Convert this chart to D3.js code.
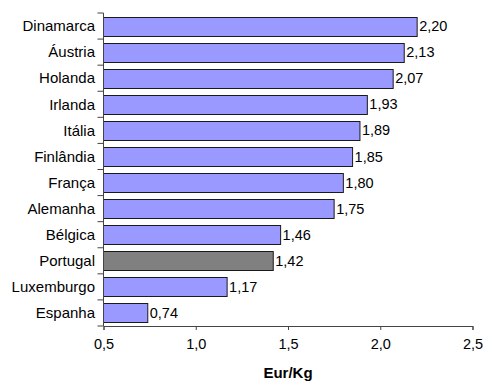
<!DOCTYPE html>
<html>
<head>
<meta charset="utf-8">
<script src="https://cdn.jsdelivr.net/npm/d3@7"></script>
<style>
  body { margin: 0; background: #fff; }
  text { font-family: "Liberation Sans", Arial, sans-serif; }
</style>
</head>
<body>
<script>
// data
const countries = ["Dinamarca", "Áustria", "Holanda", "Irlanda", "Itália", "Finlândia",
  "França", "Alemanha", "Bélgica", "Portugal", "Luxemburgo", "Espanha"];
const prices = [2.20, 2.13, 2.07, 1.93, 1.89, 1.85, 1.80, 1.75, 1.46, 1.42, 1.17, 0.74];
const xTicks = [0.5, 1.0, 1.5, 2.0, 2.5];
const highlight = "Portugal";

// dimensions
const width = 485, height = 383;
const marginTop = 13, marginRight = 12.5, marginBottom = 57, marginLeft = 103.5;

const fmt = v => d3.format(".2f")(v).replace(".", ",");
const fmtTick = v => d3.format(".1f")(v).replace(".", ",");

const svg = d3.select("body").append("svg")
  .attr("width", width)
  .attr("height", height)
  .attr("viewBox", [0, 0, width, height]);

// scales
const x = d3.scaleLinear()
  .domain([0.5, 2.5])
  .range([marginLeft, width - marginRight]);

const y = d3.scaleBand()
  .domain(countries)
  .range([marginTop, height - marginBottom])
  .paddingInner(0.27)
  .paddingOuter(0.135);

// bars
svg.append("g")
  .selectAll("rect")
  .data(countries)
  .join("rect")
  .attr("x", x(0.5))
  .attr("y", d => Math.round(y(d)) + 0.5)
  .attr("width", (d, i) => x(prices[i]) - x(0.5))
  .attr("height", Math.round(y.bandwidth()))
  .attr("fill", d => d === highlight ? "#808080" : "#9999ff")
  .attr("stroke", "#1a1a1a")
  .attr("stroke-width", 1);

// value labels
svg.append("g")
  .selectAll("text")
  .data(countries)
  .join("text")
  .attr("x", (d, i) => x(prices[i]) + 2)
  .attr("y", d => y(d) + y.bandwidth() / 2)
  .attr("dy", "0.35em")
  .attr("font-size", 14.5)
  .attr("fill", "#000")
  .text((d, i) => fmt(prices[i]));

// y axis (ticks between categories)
const yAxis = svg.append("g")
  .attr("transform", `translate(${marginLeft},0)`);
yAxis.append("line")
  .attr("x1", 0).attr("x2", 0)
  .attr("y1", marginTop).attr("y2", height - marginBottom)
  .attr("stroke", "#444");
const step = y.step();
yAxis.selectAll(".sep")
  .data(d3.range(countries.length + 1))
  .join("line")
  .attr("class", "sep")
  .attr("x1", -6).attr("x2", 0)
  .attr("y1", i => marginTop + i * step)
  .attr("y2", i => marginTop + i * step)
  .attr("stroke", "#444");
yAxis.selectAll(".lbl")
  .data(countries)
  .join("text")
  .attr("class", "lbl")
  .attr("x", -8.5)
  .attr("y", d => y(d) + y.bandwidth() / 2)
  .attr("dy", "0.35em")
  .attr("text-anchor", "end")
  .attr("font-size", 15)
  .attr("fill", "#000")
  .text(d => d);

// x axis
svg.append("g")
  .attr("transform", `translate(0,${height - marginBottom})`)
  .call(d3.axisBottom(x).tickValues(xTicks).tickFormat(fmtTick).tickSizeInner(4).tickSizeOuter(4).tickPadding(9))
  .call(g => g.select(".domain").attr("stroke", "#444"))
  .call(g => g.selectAll(".tick line").attr("stroke", "#444"))
  .call(g => g.selectAll(".tick text")
    .attr("font-size", 14.5)
    .attr("fill", "#000")
    .attr("font-family", "Liberation Sans, Arial, sans-serif"));

// x axis title
svg.append("text")
  .attr("x", (x(0.5) + x(2.5)) / 2)
  .attr("y", 378)
  .attr("text-anchor", "middle")
  .attr("font-size", 15)
  .attr("font-weight", "bold")
  .text("Eur/Kg");
</script>
</body>
</html>
